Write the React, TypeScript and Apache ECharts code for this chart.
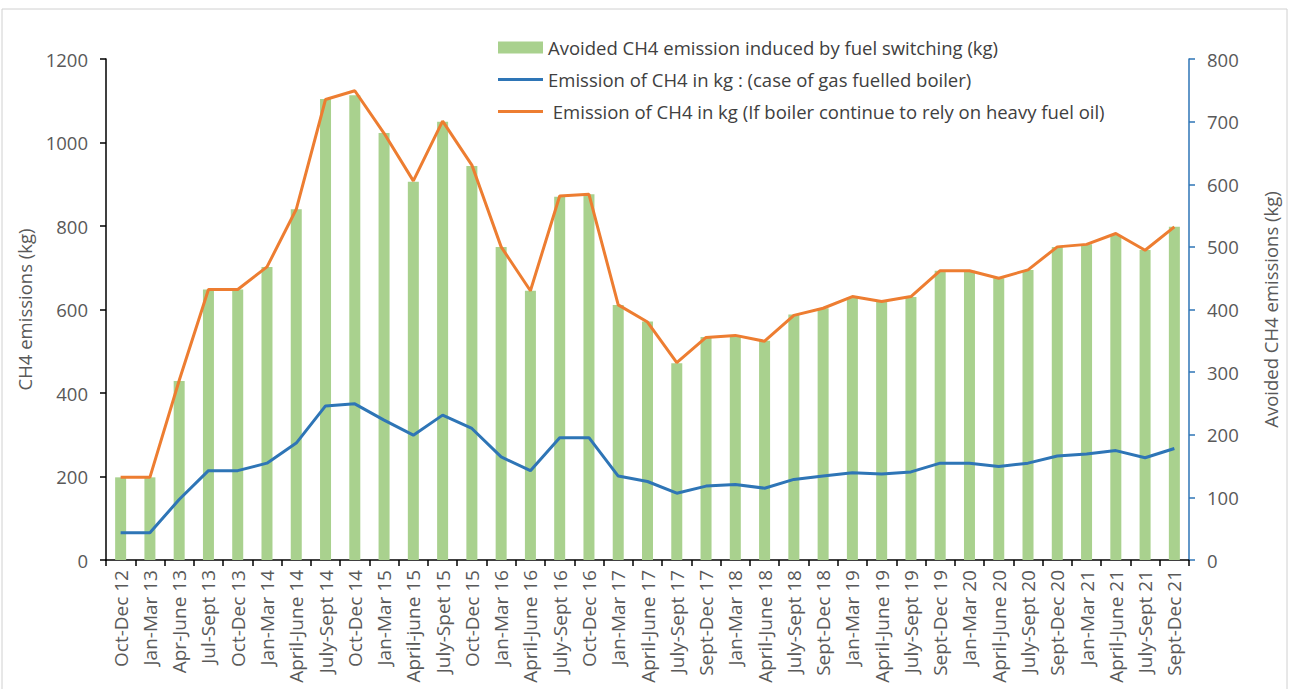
import React, { useEffect, useRef } from "react";
import * as echarts from "echarts";

const categories = [
  "Oct-Dec 12", "Jan-Mar 13", "Apr-June 13", "Jul-Sept 13", "Oct-Dec 13", "Jan-Mar 14",
  "April-June 14", "July-Sept 14", "Oct-Dec 14", "Jan-Mar 15", "April-june 15", "July-Spet 15",
  "Oct-Dec 15", "Jan-Mar 16", "April-June 16", "July-Sept 16", "Oct-Dec 16", "Jan-Mar 17",
  "April-June 17", "July-Sept 17", "Sept-Dec 17", "Jan-Mar 18", "April-June 18", "July-Sept 18",
  "Sept-Dec 18", "Jan-Mar 19", "April-June 19", "July-Sept 19", "Sept-Dec 19", "Jan-Mar 20",
  "April-June 20", "July-Sept 20", "Sept-Dec 20", "Jan-Mar 21", "April-June 21", "July-Sept 21",
  "Sept-Dec 21",
];

// Avoided CH4 emission (right axis)
const avoided = [
  132, 132, 286, 432, 432, 468, 560, 736, 742, 682, 604, 700, 629, 500, 430, 580, 584, 407,
  381, 314, 356, 358, 350, 392, 402, 420, 412, 420, 462, 462, 450, 463, 500, 504, 519, 495, 532,
];

// Emission, gas-fuelled boiler (left axis)
const gasBoiler = [
  65, 65, 145, 214, 214, 232, 280, 369, 374, 335, 299, 347, 315, 247, 214, 293, 293, 201,
  188, 160, 177, 181, 172, 193, 201, 209, 206, 211, 232, 232, 224, 232, 249, 254, 262, 245, 267,
];

// Emission, heavy fuel oil (left axis)
const heavyOil = [
  198, 198, 430, 648, 648, 702, 840, 1103, 1124, 1022, 908, 1051, 946, 750, 645, 872, 876, 611,
  570, 473, 533, 538, 524, 586, 603, 631, 619, 631, 693, 693, 675, 695, 750, 756, 782, 742, 798,
];

const seriesNames = [
  "Avoided CH4 emission induced by fuel switching (kg)",
  "Emission of CH4 in kg : (case of gas fuelled boiler)",
  " Emission of CH4 in kg (If boiler continue to rely on heavy fuel oil)",
];

const FONT = "Open Sans";
const GRAY = "#595959";
const LINE_ICON = "path://M0,0 L45,0 L45,3 L0,3 Z";

export default function App() {
  const ref = useRef<HTMLDivElement>(null);
  useEffect(() => {
    if (!ref.current) return;
    const chart = echarts.init(ref.current, null, { renderer: "svg" });
    chart.setOption({
      animation: false,
      backgroundColor: "#ffffff",
      textStyle: { fontFamily: FONT },
      graphic: [
        {
          type: "rect",
          shape: { x: 2, y: 9, width: 1285, height: 700 },
          style: { fill: "none", stroke: "#D0D0D0", lineWidth: 1 },
          silent: true,
        },
      ],
      legend: {
        orient: "vertical",
        left: 493,
        top: 33,
        itemWidth: 45,
        itemHeight: 12,
        itemGap: 13,
        symbolKeepAspect: true,
        textStyle: { fontFamily: FONT, fontSize: 18.5, color: "#404040" },
        data: [
          { name: seriesNames[0], icon: "rect" },
          { name: seriesNames[1], icon: LINE_ICON, itemStyle: { color: "#2E75B6" } },
          { name: seriesNames[2], icon: LINE_ICON, itemStyle: { color: "#ED7D31" } },
        ],
      },
      grid: { left: 106, right: 100, top: 59, bottom: 129, containLabel: false },
      xAxis: {
        type: "category",
        data: categories,
        boundaryGap: true,
        axisLine: { show: true, lineStyle: { color: "#000000", width: 1.5 } },
        axisTick: { show: true, interval: 0, length: 6, lineStyle: { color: "#000000", width: 1.5 } },
        axisLabel: {
          interval: 0,
          rotate: 90,
          margin: 10,
          fontFamily: FONT,
          fontSize: 19,
          color: GRAY,
        },
        splitLine: { show: false },
      },
      yAxis: [
        {
          type: "value",
          min: 0,
          max: 1200,
          interval: 200,
          position: "left",
          name: "CH4 emissions (kg)",
          nameLocation: "middle",
          nameRotate: 90,
          nameGap: 72,
          nameTextStyle: { fontFamily: FONT, fontSize: 18.5, color: GRAY },
          axisLine: { show: true, lineStyle: { color: "#000000", width: 1.5 } },
          axisTick: { show: true, length: 6, lineStyle: { color: "#000000", width: 1.5 } },
          axisLabel: {
            margin: 18,
            fontFamily: FONT,
            fontSize: 18.5,
            color: GRAY,
            formatter: (v: number) => String(v),
          },
          splitLine: { show: false },
        },
        {
          type: "value",
          min: 0,
          max: 800,
          interval: 100,
          position: "right",
          name: "Avoided CH4 emissions (kg)",
          nameLocation: "middle",
          nameRotate: 90,
          nameGap: 72,
          nameTextStyle: { fontFamily: FONT, fontSize: 18.5, color: GRAY },
          axisLine: { show: true, lineStyle: { color: "#2E75B6", width: 1.5 } },
          axisTick: { show: true, length: 6, lineStyle: { color: "#2E75B6", width: 1.5 } },
          axisLabel: {
            margin: 18,
            fontFamily: FONT,
            fontSize: 18.5,
            color: GRAY,
            formatter: (v: number) => String(v),
          },
          splitLine: { show: false },
        },
      ],
      series: [
        {
          name: seriesNames[0],
          type: "bar",
          yAxisIndex: 1,
          data: avoided,
          barWidth: 11,
          itemStyle: { color: "#A9D18E" },
        },
        {
          name: seriesNames[1],
          type: "line",
          yAxisIndex: 0,
          data: gasBoiler,
          symbol: "none",
          lineStyle: { color: "#2E75B6", width: 3 },
          itemStyle: { color: "#2E75B6" },
        },
        {
          name: seriesNames[2],
          type: "line",
          yAxisIndex: 0,
          data: heavyOil,
          symbol: "none",
          lineStyle: { color: "#ED7D31", width: 3 },
          itemStyle: { color: "#ED7D31" },
        },
      ],
    });
    return () => chart.dispose();
  }, []);
  return (
    <div
      ref={ref}
      style={{ position: "absolute", left: 0, top: 0, width: 1289, height: 689 }}
    />
  );
}
